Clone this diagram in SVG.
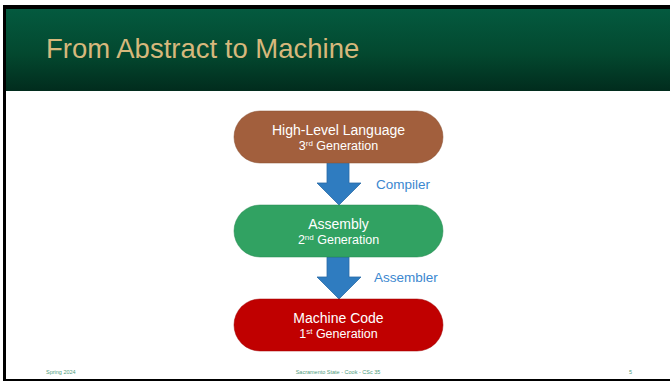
<svg xmlns="http://www.w3.org/2000/svg" width="670" height="381" viewBox="0 0 670 381">
  <defs>
    <linearGradient id="hdr" x1="0" y1="0" x2="0" y2="1">
      <stop offset="0" stop-color="#045a3f"/>
      <stop offset="0.55" stop-color="#03482f"/>
      <stop offset="1" stop-color="#012c1d"/>
    </linearGradient>
    <style>
      .sans { font-family: "Liberation Sans", Arial, sans-serif; }
      .title { font-size: 27.5px; fill: #d6b87c; }
      .node-main { font-size: 14px; fill: #ffffff; text-anchor: middle; }
      .node-sub { font-size: 12.5px; fill: #ffffff; text-anchor: middle; }
      .edge-label { font-size: 13.5px; fill: #3b87cf; }
      .footer { font-size: 5.5px; fill: #4f9c7c; }
      .arrow { fill: #2f7cc0; stroke: #2a6ba6; stroke-width: 0.8; }
      .node { stroke-width: 1; stroke-opacity: 0.5; }
    </style>
  </defs>

  <!-- page frame -->
  <rect x="0" y="0" width="670" height="381" fill="#ffffff"/>
  <rect x="3" y="5" width="667" height="376" fill="#000000"/>
  <rect x="6" y="9" width="664" height="370" fill="#ffffff"/>

  <!-- title band -->
  <rect x="6" y="9" width="664" height="82" fill="url(#hdr)"/>
  <text class="sans title" x="46" y="58">From Abstract to Machine</text>

  <!-- connectors -->
  <g id="connectors">
    <g id="edge-compiler">
      <path class="arrow" d="M327,162 L349,162 L349,183 L361,183 L339,205 L317,183 L327,183 Z"/>
      <text class="sans edge-label" x="376" y="189">Compiler</text>
    </g>
    <g id="edge-assembler">
      <path class="arrow" d="M327,257 L349,257 L349,277 L361,277 L339,299 L317,277 L327,277 Z"/>
      <text class="sans edge-label" x="374" y="282">Assembler</text>
    </g>
  </g>

  <!-- nodes -->
  <g id="node-high-level">
    <rect class="node" x="234" y="111" width="209" height="52" rx="26" ry="26" fill="#a25f3d" stroke="#8a4f31"/>
    <text class="sans node-main" x="338.5" y="135">High-Level Language</text>
    <text class="sans node-sub" x="338.5" y="150">3<tspan font-size="8" dy="-4.5">rd</tspan><tspan dy="4.5"> Generation</tspan></text>
  </g>

  <g id="node-assembly">
    <rect class="node" x="234" y="205" width="209" height="52" rx="26" ry="26" fill="#31a262" stroke="#268a50"/>
    <text class="sans node-main" x="338.5" y="229">Assembly</text>
    <text class="sans node-sub" x="338.5" y="244">2<tspan font-size="8" dy="-4.5">nd</tspan><tspan dy="4.5"> Generation</tspan></text>
  </g>

  <g id="node-machine">
    <rect class="node" x="234" y="299" width="209" height="52" rx="26" ry="26" fill="#c00000" stroke="#a00000"/>
    <text class="sans node-main" x="338.5" y="323">Machine Code</text>
    <text class="sans node-sub" x="338.5" y="338">1<tspan font-size="8" dy="-4.5">st</tspan><tspan dy="4.5"> Generation</tspan></text>
  </g>

  <!-- footer -->
  <text class="sans footer" x="46" y="373.5">Spring 2024</text>
  <text class="sans footer" x="338" y="373.5" text-anchor="middle">Sacramento State - Cook - CSc 35</text>
  <text class="sans footer" x="629" y="373.5">5</text>
</svg>
